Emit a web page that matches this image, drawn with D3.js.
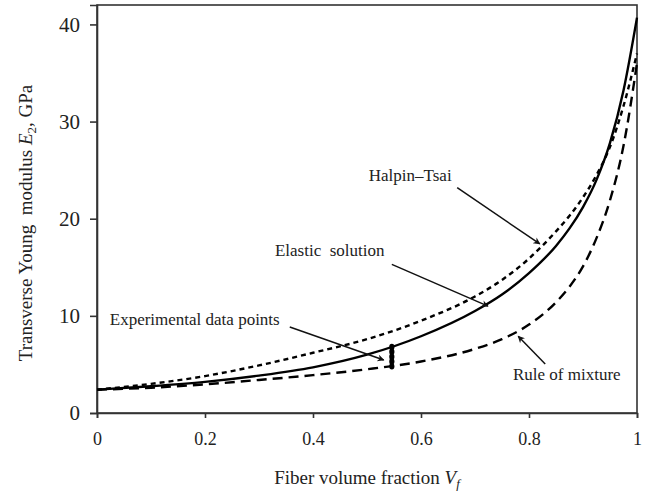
<!DOCTYPE html>
<head>
  <title>Transverse modulus</title>
  <script type="text/javascript" src="https://d3js.org/d3.v7.min.js"></script>
  <style>
    body { margin: 0; background: #fff; }
    text { font-family: "Liberation Serif", "DejaVu Serif", serif; fill: #222; }
  </style>
</head>
<body>
  <div id="chart"></div>
  <script type="text/javascript">
    // fiber volume fraction samples
    var vf = [0, 0.1, 0.2, 0.3, 0.4, 0.5, 0.6, 0.7, 0.75, 0.8, 0.85, 0.875, 0.9, 0.925, 0.95, 0.975, 1];
    // E2 (GPa)
    var elastic = [2.4, 2.75, 3.2, 3.85, 4.7, 6.0, 7.9, 10.5, 12.2, 14.4, 17.2, 19.0, 21.2, 24.0, 27.8, 33.2, 40.7];
    var halpinTsai = [2.4, 3.0, 3.8, 4.9, 6.2, 7.6, 9.5, 12.0, 13.7, 15.9, 18.7, 20.3, 22.2, 24.5, 27.4, 31.6, 37.0];
    var ruleOfMixture = [2.4, 2.6, 2.95, 3.4, 3.9, 4.5, 5.3, 6.6, 7.6, 9.1, 11.4, 13.0, 15.1, 18.0, 21.9, 27.5, 36.0];
    // experimental data points
    var expVf = [0.546, 0.546, 0.546, 0.546, 0.546];
    var expE = [4.8, 5.3, 5.8, 6.3, 6.8];
    var xTicks = [0, 0.2, 0.4, 0.6, 0.8, 1];
    var yTicks = [0, 10, 20, 30, 40];

    // annotation text + arrow (data units)
    var notes = [
      {label: "Halpin\u2013Tsai", tx: 0.580, ty: 24.3, x1: 0.667, y1: 23.2, x2: 0.820, y2: 17.4},
      {label: "Elastic  solution", tx: 0.431, ty: 16.6, x1: 0.546, y1: 15.3, x2: 0.724, y2: 11.0},
      {label: "Experimental data points", tx: 0.181, ty: 9.5, x1: 0.357, y1: 8.85, x2: 0.531, y2: 5.45},
      {label: "Rule of mixture", tx: 0.870, ty: 3.8, x1: 0.830, y1: 5.05, x2: 0.780, y2: 7.9}
    ];

    var w = 651, h = 494;
    var padL = 97, padR = 637, padT = 5, padB = 413;

    var svg = d3.select("#chart").append("svg")
                .attr("width", w)
                .attr("height", h);

    var x = d3.scaleLinear().domain([0, 1]).range([padL, padR]);
    var y = d3.scaleLinear().domain([0, 42]).range([padB, padT]);

    svg.append("defs").append("marker")
       .attr("id", "arrow")
       .attr("viewBox", "0 0 10 10")
       .attr("refX", 9).attr("refY", 5)
       .attr("markerWidth", 9).attr("markerHeight", 7)
       .attr("markerUnits", "userSpaceOnUse")
       .attr("orient", "auto")
       .append("path")
       .attr("d", "M0,0 L10,5 L0,10 L3,5 Z")
       .attr("fill", "#111");

    // frame
    svg.append("rect")
       .attr("x", padL).attr("y", padT)
       .attr("width", padR - padL).attr("height", padB - padT)
       .attr("fill", "none").attr("stroke", "#333").attr("stroke-width", 1.6);

    var xAxis = svg.append("g")
       .attr("transform", "translate(0," + padB + ")")
       .call(d3.axisBottom(x).tickValues(xTicks).tickSize(5).tickPadding(14)
               .tickFormat(function(d) { return d; }));
    var yAxis = svg.append("g")
       .attr("transform", "translate(" + padL + ",0)")
       .call(d3.axisLeft(y).tickValues(yTicks).tickSize(7).tickPadding(10));
    [xAxis, yAxis].forEach(function(a) {
      a.select(".domain").attr("stroke", "#333").attr("stroke-width", 1.6);
      a.selectAll(".tick line").attr("stroke", "#333").attr("stroke-width", 1.6);
      a.selectAll(".tick text").attr("fill", "#222")
       .attr("font-family", "Liberation Serif, serif");
    });
    xAxis.selectAll(".tick text").attr("font-size", 18);
    yAxis.selectAll(".tick text").attr("font-size", 21);

    var line = d3.line()
                 .x(function(d, i) { return x(vf[i]); })
                 .y(function(d) { return y(d); })
                 .curve(d3.curveMonotoneX);

    var series = [
      {values: halpinTsai, dash: "5,4"},
      {values: elastic, dash: null},
      {values: ruleOfMixture, dash: "10,6"}
    ];
    svg.selectAll("path.curve")
       .data(series)
       .enter()
       .append("path")
       .attr("class", "curve")
       .attr("d", function(d) { return line(d.values); })
       .attr("fill", "none")
       .attr("stroke", "#000")
       .attr("stroke-width", 2.4)
       .attr("stroke-dasharray", function(d) { return d.dash; });

    svg.selectAll("ellipse.exp")
       .data(expE)
       .enter()
       .append("ellipse")
       .attr("class", "exp")
       .attr("cx", function(d, i) { return x(expVf[i]); })
       .attr("cy", function(d) { return y(d); })
       .attr("rx", 2.6).attr("ry", 3.2)
       .attr("fill", "#000");

    svg.selectAll("line.note")
       .data(notes)
       .enter()
       .append("line")
       .attr("class", "note")
       .attr("x1", function(d) { return x(d.x1); })
       .attr("y1", function(d) { return y(d.y1); })
       .attr("x2", function(d) { return x(d.x2); })
       .attr("y2", function(d) { return y(d.y2); })
       .attr("stroke", "#111")
       .attr("stroke-width", 1.5)
       .attr("marker-end", "url(#arrow)");

    svg.selectAll("text.note")
       .data(notes)
       .enter()
       .append("text")
       .attr("class", "note")
       .attr("x", function(d) { return x(d.tx); })
       .attr("y", function(d) { return y(d.ty); })
       .attr("text-anchor", "middle")
       .attr("dominant-baseline", "middle")
       .attr("font-size", 17)
       .style("white-space", "pre")
       .text(function(d) { return d.label; });

    // axis titles
    var xt = svg.append("text")
       .attr("x", (padL + padR) / 2)
       .attr("y", 484)
       .attr("text-anchor", "middle")
       .attr("font-size", 19);
    xt.append("tspan").text("Fiber volume fraction ");
    xt.append("tspan").attr("font-style", "italic").text("V");
    xt.append("tspan").attr("font-style", "italic").attr("font-size", 13).attr("dy", 4).text("f");

    var yt = svg.append("text")
       .attr("transform", "translate(32,223) rotate(-90)")
       .attr("text-anchor", "middle")
       .attr("font-size", 19)
       .style("white-space", "pre");
    yt.append("tspan").text("Transverse Young  modulus ");
    yt.append("tspan").attr("font-style", "italic").text("E");
    yt.append("tspan").attr("font-size", 13).attr("dy", 4).text("2");
    yt.append("tspan").attr("dy", -4).text(", GPa");
  </script>
</body>
